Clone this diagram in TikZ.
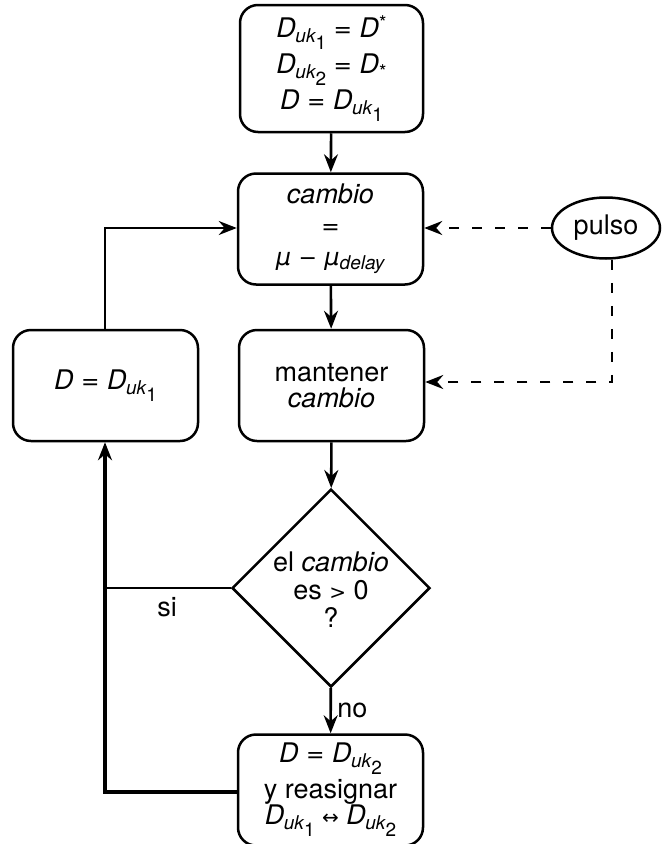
\documentclass[tikz,border=0pt]{standalone}
\usepackage{fontspec}
\setmainfont{TeX Gyre Heros}
\newfontfamily\symf{DejaVu Sans}
\usetikzlibrary{shapes.geometric,arrows.meta}
\newcommand\subsc[2][-5pt]{\raisebox{#1}{\fontsize{19}{19}\selectfont #2}}
\newcommand\Duk[1]{\textit{D}\kern-0.5pt\subsc{\textit{uk}\kern-0.5pt\subsc[-7pt]{#1}}}
\newcommand\mysym[2]{{\fontsize{#1}{#1}\symf #2}}
\newcommand\bigeq{\mysym{22}{=}}
\newcommand\eqs{\ \bigeq\ }
\newcommand\astup{\raisebox{8pt}{\fontsize{19}{19}\selectfont *}}
\newcommand\astdn{\raisebox{-5pt}{\fontsize{19}{19}\selectfont *}}
\begin{document}
\begin{tikzpicture}[x=1pt,y=-1pt,
  every node/.style={font=\fontsize{27}{36}\selectfont},
  procbox/.style={draw,line width=2.5pt,rounded corners=18pt,minimum width=185pt,minimum height=111pt,align=center,inner sep=2pt},
  conn/.style={line width=2.6pt},
  arr/.style={conn,-{Stealth[length=18pt,width=14pt,inset=6pt]}},
  dasharr/.style={arr,dash pattern=on 10pt off 13pt}]
\useasboundingbox (0,0) rectangle (662,844);
\node[procbox,minimum height=127pt,minimum width=183pt] (top) at (331.5,68.5)
  {\Duk{1}\eqs\textit{D}\astup\\[0pt] \Duk{2}\eqs\textit{D}\astdn\\[0pt] \textit{D}\eqs\Duk{1}};
\node[procbox] (cambio) at (330.5,229)
  {\itshape cambio\\[-5pt] \bigeq\\[-5pt] \mysym{24}{\itshape μ}\ \mysym{22}{−}\ \mysym{24}{\itshape μ}\subsc[-4pt]{\textit{delay}}};
\node[procbox] (dset) at (105.5,385.5) {\textit{D}\eqs\Duk{1}};
\node[procbox] (mant) at (331.5,385.5) {mantener\\[-10pt] \itshape cambio};
\node[draw,diamond,line width=2.5pt,minimum size=198pt,inner sep=0pt] (dia) at (331,588) {};
\node[align=center] (diatext) at (331,590) {el \textit{cambio}\\[-8pt] es \mysym{20}{>} 0\\[-8pt] ?};
\node[draw,ellipse,line width=2.5pt,minimum width=108pt,minimum height=61pt,inner sep=0pt] (pulso) at (606,228) {pulso};
\node[procbox] (fin) at (330.5,790)
  {\textit{D}\eqs\Duk{2}\\[0pt] y reasignar\\[-10pt] \Duk{1}\ \mysym{20}{↔}\ \Duk{2}};
\coordinate (pturn) at (612,382);
\coordinate (sij) at (105,588);
\coordinate (finj) at (105,792);
\coordinate (dtop) at (105,228);
\draw[arr] (top) -- (cambio);
\draw[arr] (cambio) -- (mant);
\draw[arr] (mant) -- (dia);
\draw[arr] (dia) -- node[right,xshift=2pt] (nolab) {no} (fin);
\draw[dasharr] (pulso.west) -- (cambio.east |- pulso.west);
\draw[dasharr] (pulso.south -| pturn) -- (pturn) -- (mant.east |- pturn);
\draw[conn] (dia.west) -- (sij);
\node (silab) at (167,607) {si};
\draw[arr,line width=3.2pt] (fin.west |- finj) -- (finj) -- (dset.south -| finj);
\draw[arr] (dset.north -| dtop) -- (dtop) -- (cambio.west |- dtop);
\end{tikzpicture}
\end{document}
